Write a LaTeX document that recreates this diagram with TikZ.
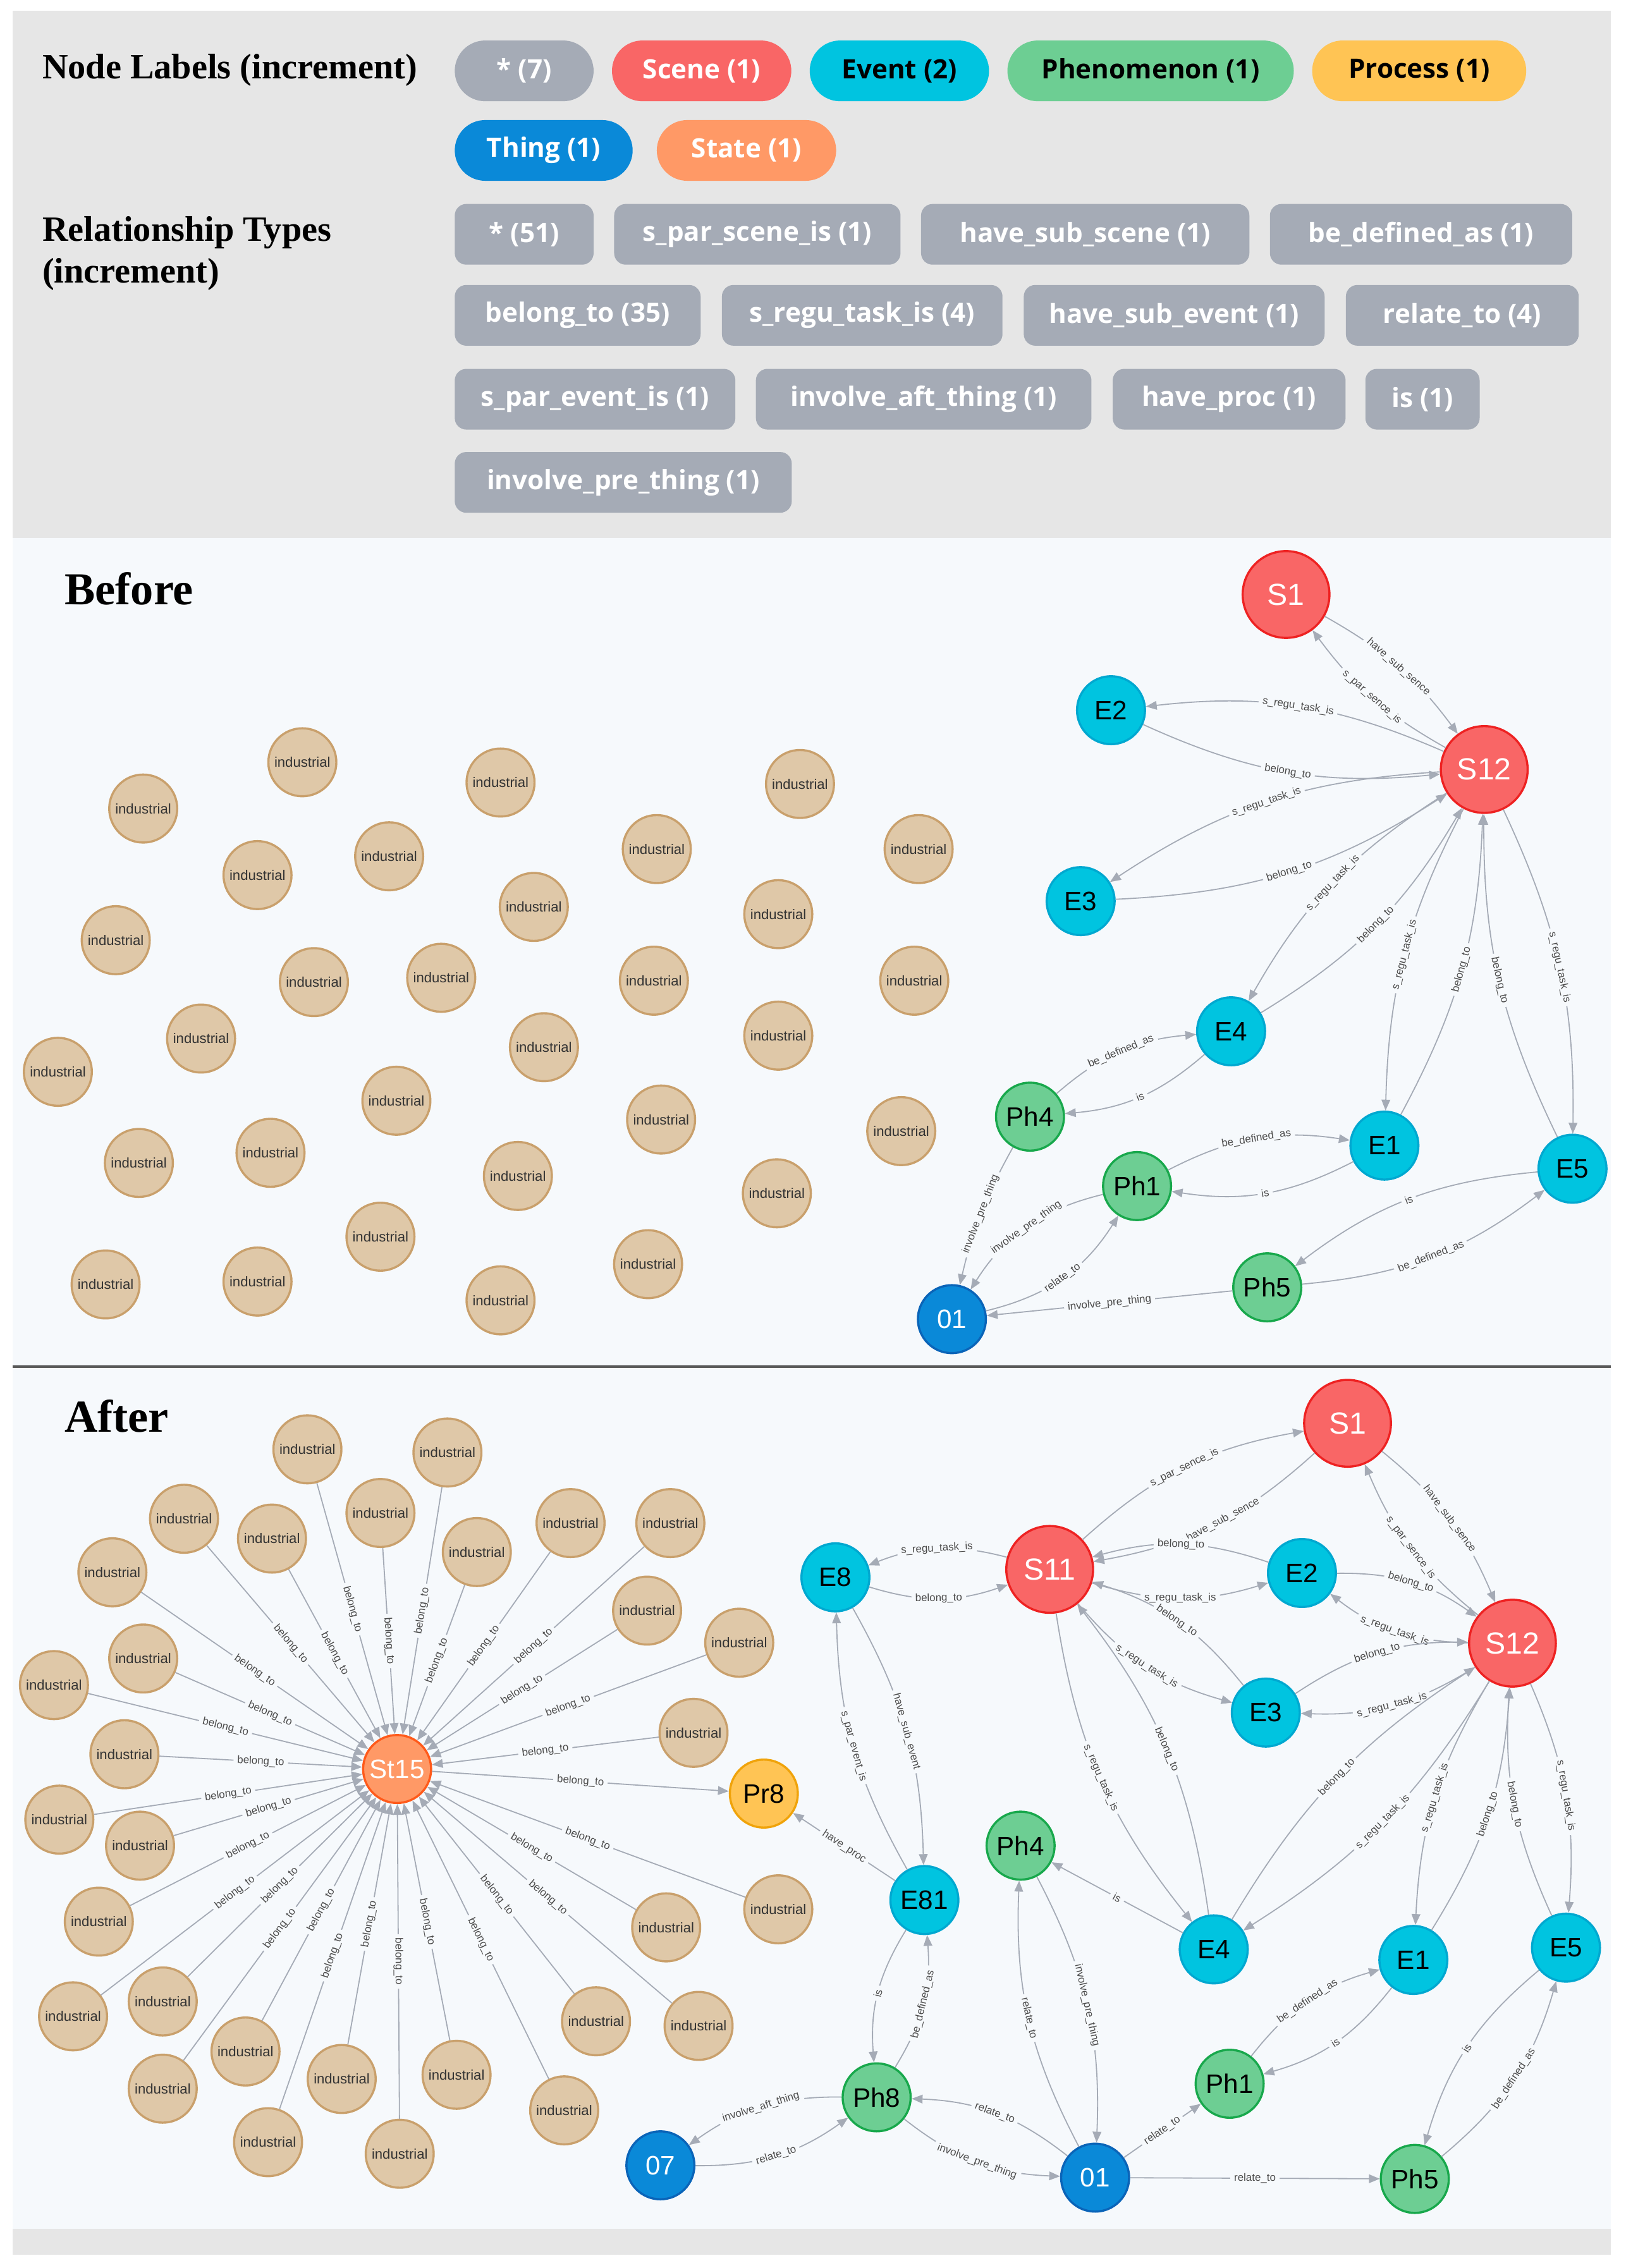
\documentclass[tikz,border=0pt]{standalone}
\usepackage{fontspec}
\setmainfont{Liberation Serif}
\setsansfont{Liberation Sans}
\newfontfamily\pillfont{Open Sans}
\usepackage{tikz}
\usetikzlibrary{shapes.misc, arrows.meta, positioning}

\definecolor{topgray}{HTML}{E6E6E6}
\definecolor{panelbg}{HTML}{F6F9FC}
\definecolor{relgray}{HTML}{A5ABB6}
\definecolor{scenefill}{HTML}{F96666}
\definecolor{sceneline}{HTML}{EE2222}
\definecolor{eventfill}{HTML}{00C4E0}
\definecolor{eventline}{HTML}{00A8D0}
\definecolor{phenfill}{HTML}{6DCE93}
\definecolor{phenline}{HTML}{18A84C}
\definecolor{thingfill}{HTML}{0A89D8}
\definecolor{thingline}{HTML}{0A64B8}
\definecolor{statefill}{HTML}{FF9966}
\definecolor{stateline}{HTML}{FF5A1A}
\definecolor{procfill}{HTML}{FFC454}
\definecolor{procline}{HTML}{F0A30A}
\definecolor{indfill}{HTML}{DFC8A8}
\definecolor{indline}{HTML}{C9A06C}

\begin{document}
\begin{tikzpicture}[
  x=0.02cm, y=-0.02cm,
  node distance=0.24cm,
  title/.style={font=\bfseries\fontsize{14}{17}\selectfont, inner sep=0pt},
  panel/.style={font=\bfseries\fontsize{18}{21}\selectfont, inner sep=0pt},
  pill/.style={rounded rectangle, minimum height=0.84cm, inner sep=0pt, font=\pillfont\bfseries\fontsize{10.5}{12}\selectfont},
  relbox/.style={rectangle, rounded corners=0.16cm, minimum height=0.84cm, inner sep=0pt, fill=relgray, text=white, font=\pillfont\bfseries\fontsize{10.5}{12}\selectfont},
  nd/.style={circle, draw, line width=0.85pt, inner sep=0pt, minimum size=0.94cm, font=\sffamily\fontsize{10.5}{12}\selectfont},
  scene/.style={nd, minimum size=1.2cm, fill=scenefill, draw=sceneline, text=white, font=\sffamily\fontsize{12}{14}\selectfont},
  event/.style={nd, fill=eventfill, draw=eventline},
  phen/.style={nd, fill=phenfill, draw=phenline},
  thing/.style={nd, fill=thingfill, draw=thingline, text=white},
  state/.style={nd, fill=statefill, draw=stateline, text=white},
  proc/.style={nd, fill=procfill, draw=procline},
  ind/.style={nd, fill=indfill, draw=indline, text=black!80, font=\sffamily\fontsize{5.5}{6}\selectfont},
  rel/.style={draw=relgray, line width=0.45pt, -{Triangle[length=0.15cm, width=0.12cm]}},
  lbl/.style={sloped, fill=panelbg, inner xsep=1.5pt, inner ysep=0.5pt, text=black!70, font=\sffamily\fontsize{4.2}{5}\selectfont}
]
\useasboundingbox (0,0) rectangle (1124,1568);
\fill[white] (0,0) rectangle (1124,1568);
\fill[topgray] (8.7,7.3) rectangle (1113.6,372);
\fill[panelbg] (8.7,372) rectangle (1113.6,1541);
\fill[topgray] (8.7,1541) rectangle (1113.6,1558.6);
\draw[black!65, line width=0.8pt] (8.7,944.8) -- (1113.6,944.8);

\node[title, anchor=base west] (nodetitle) at (29,54.6) {Node Labels (increment)};
\node[title, anchor=base west] (reltitle) at (29,166.6) {Relationship Types};
\node[title, anchor=base west] (reltitle2) at (29,195.4) {(increment)};

\node[pill, fill=relgray, text=white, minimum width=1.92cm, anchor=west] (lall) at (314,49) {* (7)};
\node[pill, fill=scenefill, text=white, minimum width=2.48cm, right=of lall] (lscene) {Scene (1)};
\node[pill, fill=eventfill, minimum width=2.48cm, right=of lscene] (levent) {Event (2)};
\node[pill, fill=phenfill, minimum width=3.96cm, right=of levent] (lphen) {Phenomenon (1)};
\node[pill, fill=procfill, minimum width=2.96cm, right=of lphen] (lproc) {Process (1)};
\node[pill, fill=thingfill, text=white, minimum width=2.46cm, anchor=west] (lthing) at (314,104) {Thing (1)};
\node[pill, fill=statefill, text=white, minimum width=2.48cm, right=0.32cm of lthing] (lstate) {State (1)};

\node[relbox, minimum width=1.92cm, anchor=west] (rall) at (314,162) {* (51)};
\node[relbox, minimum width=3.96cm, right=0.27cm of rall] (rparscene) {s\_par\_scene\_is (1)};
\node[relbox, minimum width=4.54cm, right=0.27cm of rparscene] (rsubscene) {have\_sub\_scene (1)};
\node[relbox, minimum width=4.18cm, right=0.27cm of rsubscene] (rdefined) {be\_defined\_as (1)};
\node[relbox, minimum width=3.40cm, anchor=west] (rbelong) at (314,218) {belong\_to (35)};
\node[relbox, minimum width=3.88cm, right=0.28cm of rbelong] (rregu) {s\_regu\_task\_is (4)};
\node[relbox, minimum width=4.16cm, right=0.28cm of rregu] (rsubevent) {have\_sub\_event (1)};
\node[relbox, minimum width=3.22cm, right=0.28cm of rsubevent] (rrelate) {relate\_to (4)};
\node[relbox, minimum width=3.88cm, anchor=west] (rparevent) at (314,276) {s\_par\_event\_is (1)};
\node[relbox, minimum width=4.64cm, right=0.27cm of rparevent] (raft) {involve\_aft\_thing (1)};
\node[relbox, minimum width=3.22cm, right=0.28cm of raft] (rproc) {have\_proc (1)};
\node[relbox, minimum width=1.58cm, right=0.26cm of rproc] (ris) {is (1)};
\node[relbox, minimum width=4.66cm, anchor=west] (rpre) at (314,333.5) {involve\_pre\_thing (1)};

\node[panel, anchor=base west] (before) at (44.4,418) {Before};
\node[panel, anchor=base west] (after) at (44.4,990.2) {After};

\foreach \x/\y [count=\i] in {209/527, 99/559, 346/541, 553/542, 178/605, 269/592, 454/587, 635/587, 369/627, 538/632, 80/650, 217/679, 305/676, 452/678, 632/678, 139/718, 376/724, 538/716, 40/741, 274/761, 457/774, 623/782, 96/804, 187/797, 358/813, 537/825, 263/855, 73/888, 178/886, 346/899, 448/874}
  \node[ind] (bI\i) at (\x,\y) {industrial};

\node[scene] (bS1) at (889,411) {S1};
\node[scene] (bS12) at (1026,532) {S12};
\node[event] (bE2) at (768,491) {E2};
\node[event] (bE3) at (747,623) {E3};
\node[event] (bE4) at (851,713) {E4};
\node[phen] (bPh4) at (712,772) {Ph4};
\node[event] (bE1) at (957,792) {E1};
\node[event] (bE5) at (1087,808) {E5};
\node[phen] (bPh1) at (786,820) {Ph1};
\node[phen] (bPh5) at (876,890) {Ph5};
\node[thing] (b01) at (658,912) {01};

\draw[rel] (bS12) to[bend left=12] node[lbl]{s\_par\_sence\_is} (bS1);
\draw[rel] (bS1) to[bend left=12] node[lbl]{have\_sub\_sence} (bS12);
\draw[rel] (bS12) to[bend right=15] node[lbl]{s\_regu\_task\_is} (bE2);
\draw[rel] (bE2) to[bend right=15] node[lbl]{belong\_to} (bS12);
\draw[rel] (bS12) to[bend right=15] node[lbl]{s\_regu\_task\_is} (bE3);
\draw[rel] (bE3) to[bend right=15] node[lbl]{belong\_to} (bS12);
\draw[rel] (bS12) to[bend right=14] node[lbl]{s\_regu\_task\_is} (bE4);
\draw[rel] (bE4) to[bend right=14] node[lbl]{belong\_to} (bS12);
\draw[rel] (bS12) to[bend right=13] node[lbl]{s\_regu\_task\_is} (bE1);
\draw[rel] (bE1) to[bend right=13] node[lbl]{belong\_to} (bS12);
\draw[rel] (bS12) to[bend left=13] node[lbl]{s\_regu\_task\_is} (bE5);
\draw[rel] (bE5) to[bend left=13] node[lbl]{belong\_to} (bS12);
\draw[rel] (bPh4) to[bend left=18] node[lbl]{be\_defined\_as} (bE4);
\draw[rel] (bE4) to[bend left=18] node[lbl]{is} (bPh4);
\draw[rel] (bPh1) to[bend left=18] node[lbl]{be\_defined\_as} (bE1);
\draw[rel] (bE1) to[bend left=18] node[lbl]{is} (bPh1);
\draw[rel] (bE5) to[bend right=16] node[lbl]{is} (bPh5);
\draw[rel] (bPh5) to[bend right=16] node[lbl]{be\_defined\_as} (bE5);
\draw[rel] (bPh4) to[bend right=8] node[lbl]{involve\_pre\_thing} (b01);
\draw[rel] (bPh1) to[bend right=22] node[lbl]{involve\_pre\_thing} (b01);
\draw[rel] (b01) to[bend right=22] node[lbl]{relate\_to} (bPh1);
\draw[rel] (bPh5) -- node[lbl]{involve\_pre\_thing} (b01);

\node[state] (aSt15) at (274.5,1223) {St15};
\node[proc] (aPr8) at (528,1240) {Pr8};
\foreach \x/\y [count=\i] in {212.5/1002, 309.3/1004.2, 127.2/1050, 188/1063.7, 263/1046, 329.6/1073, 394.4/1053, 463.4/1053, 77.7/1087, 447.3/1113.5, 511/1135.7, 99/1146.6, 37.3/1165, 479.4/1198, 86/1212.8, 41/1258, 96.8/1276, 68.3/1328.5, 50.5/1394, 112.5/1383.7, 169.7/1418.3, 112.5/1444, 185.3/1481, 236.2/1437.3, 276.3/1489, 315.6/1434.4, 390/1459, 412/1397.4, 482.9/1400.6, 460.5/1332.5, 538/1320}
  \node[ind] (aI\i) at (\x,\y) {industrial};
\foreach \i in {1,...,31}
  \draw[rel] (aI\i) -- node[lbl]{belong\_to} (aSt15);
\draw[rel] (aSt15) -- node[lbl]{belong\_to} (aPr8);

\node[scene] (aS1) at (931.5,984) {S1};
\node[scene] (aS11) at (725.6,1085) {S11};
\node[event] (aE8) at (577.5,1090.5) {E8};
\node[event] (aE2) at (900,1087.5) {E2};
\node[scene] (aS12) at (1045.5,1136) {S12};
\node[event] (aE3) at (875,1184) {E3};
\node[phen] (aPh4) at (705.5,1276) {Ph4};
\node[event] (aE81) at (639,1313.6) {E81};
\node[event] (aE4) at (839,1347.7) {E4};
\node[event] (aE1) at (977,1355) {E1};
\node[event] (aE5) at (1082.5,1346.5) {E5};
\node[phen] (aPh8) at (606,1450) {Ph8};
\node[phen] (aPh1) at (850,1440.6) {Ph1};
\node[thing] (a01) at (757,1505.5) {01};
\node[phen] (aPh5) at (978,1506.4) {Ph5};
\node[thing] (a07) at (456.5,1497) {07};

\draw[rel] (aS11) to[bend left=16] node[lbl]{s\_par\_sence\_is} (aS1);
\draw[rel] (aS1) to[bend left=16] node[lbl, pos=0.45]{have\_sub\_sence} (aS11);
\draw[rel] (aS11) to[bend right=18] node[lbl]{s\_regu\_task\_is} (aE8);
\draw[rel] (aE8) to[bend right=18] node[lbl]{belong\_to} (aS11);
\draw[rel] (aE2) to[bend right=17] node[lbl]{belong\_to} (aS11);
\draw[rel] (aS11) to[bend right=17] node[lbl]{s\_regu\_task\_is} (aE2);
\draw[rel] (aE3) to[bend right=17] node[lbl]{belong\_to} (aS11);
\draw[rel] (aS11) to[bend right=17] node[lbl]{s\_regu\_task\_is} (aE3);
\draw[rel] (aS11) to[bend right=15] node[lbl]{s\_regu\_task\_is} (aE4);
\draw[rel] (aE4) to[bend right=15] node[lbl]{belong\_to} (aS11);
\draw[rel] (aS1) to[bend left=14] node[lbl]{have\_sub\_sence} (aS12);
\draw[rel] (aS12) to[bend left=14] node[lbl]{s\_par\_sence\_is} (aS1);
\draw[rel] (aE2) to[bend left=18] node[lbl]{belong\_to} (aS12);
\draw[rel] (aS12) to[bend left=18] node[lbl]{s\_regu\_task\_is} (aE2);
\draw[rel] (aE3) to[bend left=17] node[lbl]{belong\_to} (aS12);
\draw[rel] (aS12) to[bend left=17] node[lbl]{s\_regu\_task\_is} (aE3);
\draw[rel] (aS12) to[bend left=13] node[lbl]{s\_regu\_task\_is} (aE4);
\draw[rel] (aE4) to[bend left=13] node[lbl]{belong\_to} (aS12);
\draw[rel] (aS12) to[bend right=14] node[lbl]{s\_regu\_task\_is} (aE1);
\draw[rel] (aE1) to[bend right=14] node[lbl]{belong\_to} (aS12);
\draw[rel] (aS12) to[bend left=14] node[lbl]{s\_regu\_task\_is} (aE5);
\draw[rel] (aE5) to[bend left=14] node[lbl]{belong\_to} (aS12);
\draw[rel] (aE4) -- node[lbl]{is} (aPh4);
\draw[rel] (a01) to[bend left=15] node[lbl]{relate\_to} (aPh4);
\draw[rel] (aPh4) to[bend left=15] node[lbl]{involve\_pre\_thing} (a01);
\draw[rel] (aE81) -- node[lbl]{have\_proc} (aPr8);
\draw[rel] (aE81) to[bend left=14] node[lbl]{s\_par\_event\_is} (aE8);
\draw[rel] (aE8) to[bend left=14] node[lbl]{have\_sub\_event} (aE81);
\draw[rel] (aE81) to[bend right=18] node[lbl]{is} (aPh8);
\draw[rel] (aPh8) to[bend right=18] node[lbl]{be\_defined\_as} (aE81);
\draw[rel] (aPh8) to[bend right=18] node[lbl]{involve\_aft\_thing} (a07);
\draw[rel] (a07) to[bend right=18] node[lbl]{relate\_to} (aPh8);
\draw[rel] (a01) to[bend right=18] node[lbl]{relate\_to} (aPh8);
\draw[rel] (aPh8) to[bend right=18] node[lbl]{involve\_pre\_thing} (a01);
\draw[rel] (a01) -- node[lbl]{relate\_to} (aPh1);
\draw[rel] (a01) -- node[lbl]{relate\_to} (aPh5);
\draw[rel] (aPh1) to[bend left=18] node[lbl]{be\_defined\_as} (aE1);
\draw[rel] (aE1) to[bend left=18] node[lbl]{is} (aPh1);
\draw[rel] (aE5) to[bend right=17] node[lbl]{is} (aPh5);
\draw[rel] (aPh5) to[bend right=17] node[lbl]{be\_defined\_as} (aE5);
\end{tikzpicture}
\end{document}
